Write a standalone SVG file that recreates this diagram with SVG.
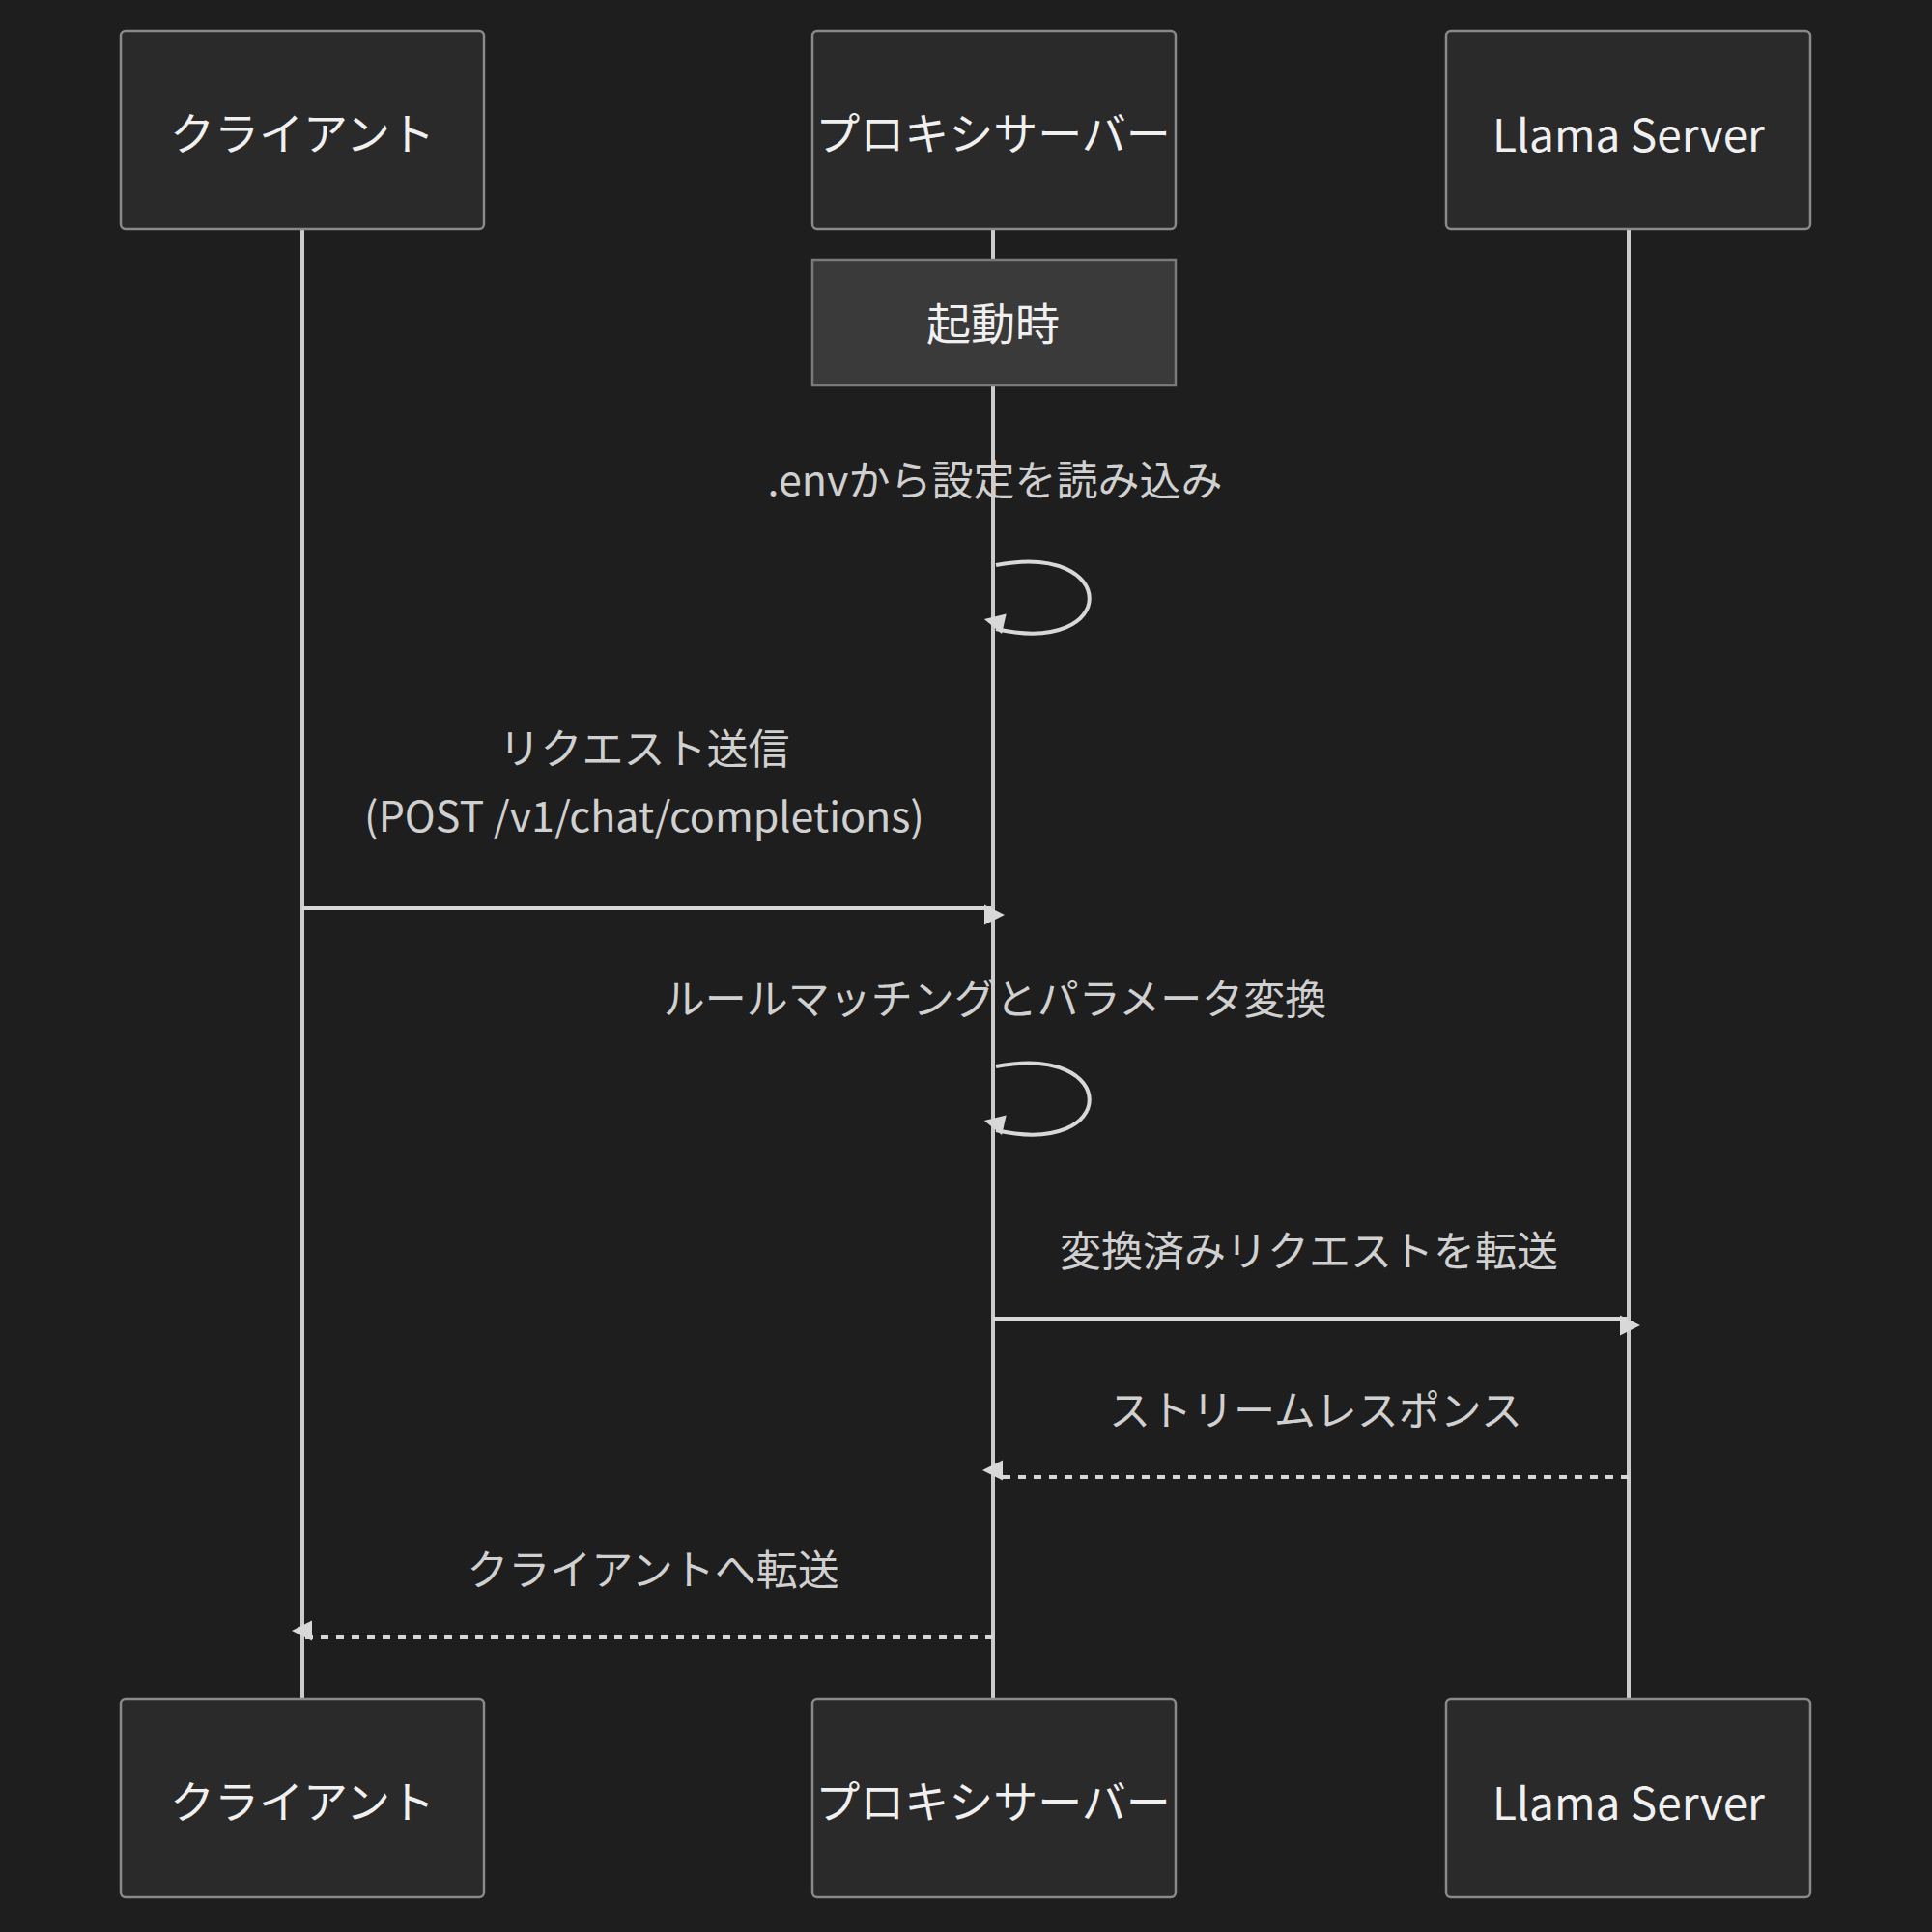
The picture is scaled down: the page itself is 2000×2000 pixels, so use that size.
<svg xmlns="http://www.w3.org/2000/svg" width="2000" height="2000" viewBox="0 0 2000 2000">
<defs>
<style>
.actor{fill:#2a2a2a;stroke:#8a8a8a;stroke-width:2.5}
.at{font-family:"Noto Sans CJK JP","Noto Sans",sans-serif;font-size:46px;fill:#f0f0f0;text-anchor:middle;dominant-baseline:central}
.mt{font-family:"Noto Sans CJK JP","Noto Sans",sans-serif;font-size:43px;fill:#d0d0d0;text-anchor:middle;dominant-baseline:central}
.life{stroke:#cccccc;stroke-width:4}
.msg{stroke:#d8d8d8;stroke-width:4;fill:none}
.dash{stroke-dasharray:8,8}
</style>
<marker id="ah" viewBox="0 0 10 10" refX="10" refY="5" markerWidth="7" markerHeight="7" markerUnits="userSpaceOnUse" orient="auto" style="overflow:visible">
<path d="M0,0 L10,5 L0,10 z" fill="#d8d8d8" transform="scale(3)"/>
</marker>
</defs>
<rect width="2000" height="2000" fill="#1e1e1e"/>
<g id="lifelines">
<line class="life" x1="313" y1="237" x2="313" y2="1759"/>
<line class="life" x1="1028" y1="237" x2="1028" y2="1759"/>
<line class="life" x1="1686" y1="237" x2="1686" y2="1759"/>
</g>
<g id="client-top"><rect class="actor" x="125" y="32" width="376" height="205" rx="5"/><text class="at" x="313" y="135">クライアント</text></g>
<g id="proxy-top"><rect class="actor" x="841" y="32" width="376" height="205" rx="5"/><text class="at" x="1028" y="135">プロキシサーバー</text></g>
<g id="llama-top"><rect class="actor" x="1497" y="32" width="377" height="205" rx="5"/><text class="at" x="1686" y="137">Llama Server</text></g>
<g id="client-bottom"><rect class="actor" x="125" y="1759" width="376" height="205" rx="5"/><text class="at" x="313" y="1862">クライアント</text></g>
<g id="proxy-bottom"><rect class="actor" x="841" y="1759" width="376" height="205" rx="5"/><text class="at" x="1028" y="1862">プロキシサーバー</text></g>
<g id="llama-bottom"><rect class="actor" x="1497" y="1759" width="377" height="205" rx="5"/><text class="at" x="1686" y="1864">Llama Server</text></g>
<g id="note"><rect x="841" y="269" width="376" height="130" fill="#3a3a3a" stroke="#7a7a7a" stroke-width="2.5"/><text class="at" x="1028" y="332">起動時</text></g>
<g id="connectors">
<text class="mt" x="1030" y="494">.envから設定を読み込み</text>
<path class="msg" d="M1031,585 C1160,560 1160,680 1031,651" marker-end="url(#ah)"/>
<text class="mt" x="667" y="772">リクエスト送信</text>
<text class="mt" x="667" y="842">(POST /v1/chat/completions)</text>
<line class="msg" x1="313" y1="940" x2="1026" y2="940" marker-end="url(#ah)"/>
<text class="mt" x="1030" y="1031">ルールマッチングとパラメータ変換</text>
<path class="msg" d="M1031,1104 C1160,1079 1160,1199 1031,1170" marker-end="url(#ah)"/>
<text class="mt" x="1355" y="1292">変換済みリクエストを転送</text>
<line class="msg" x1="1028" y1="1365" x2="1684" y2="1365" marker-end="url(#ah)"/>
<text class="mt" x="1362" y="1457">ストリームレスポンス</text>
<line class="msg dash" x1="1686" y1="1529" x2="1031" y2="1529" marker-end="url(#ah)"/>
<text class="mt" x="676" y="1622">クライアントへ転送</text>
<line class="msg dash" x1="1028" y1="1695" x2="316" y2="1695" marker-end="url(#ah)"/>
</g>
</svg>
